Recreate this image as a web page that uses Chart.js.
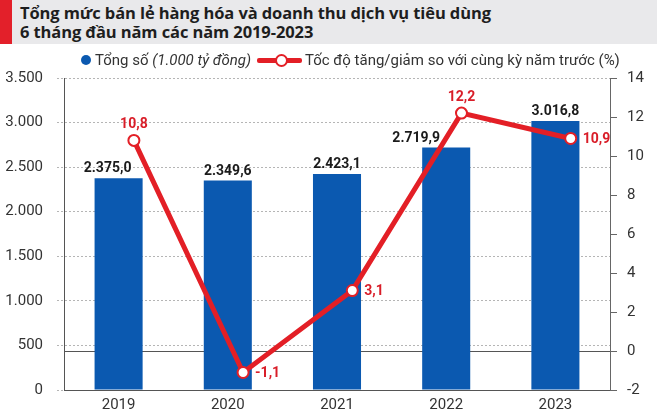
<!DOCTYPE html>
<html>
<head>
<meta charset="utf-8">
<script src="https://cdn.jsdelivr.net/npm/chart.js@4/dist/chart.umd.min.js"></script>
<style>
  body { margin: 0; background: #fff; font-family: Roboto, "Noto Sans", sans-serif; }
  #wrap { position: relative; width: 657px; height: 416px; overflow: hidden; background: #fff; }
  #chart { position: absolute; left: 0; top: 0; }
  #head { position: absolute; left: 0; top: 0; width: 657px; height: 44px; background: #e9e9eb; }
  #head .mark { position: absolute; left: 0; top: 0; width: 12px; height: 44px; background: #e3202a; }
  #head h1 { position: absolute; left: 20px; top: 3px; margin: 0; font-family: "Open Sans", Roboto, sans-serif; font-size: 16.5px; line-height: 19px; font-weight: 700; color: #1e1e1e; letter-spacing: -0.1px; }
  .lg { position: absolute; top: 51px; font-size: 15px; line-height: 18px; color: #333; white-space: nowrap; }
  .dot { position: absolute; left: 81px; top: 55px; width: 10px; height: 10px; border-radius: 50%; background: #0b59b0; }
  .lline { position: absolute; left: 257px; top: 58px; width: 45px; height: 5px; background: #e31f26; border-radius: 2px; }
  .lcirc { position: absolute; left: 275px; top: 54px; width: 9px; height: 9px; border-radius: 50%; background: #fff; border: 2px solid #e31f26; }
</style>
</head>
<body>
<div id="wrap">
  <canvas id="chart" width="657" height="416"></canvas>
  <div id="head">
    <div class="mark"></div>
    <h1>Tổng mức bán lẻ hàng hóa và doanh thu dịch vụ tiêu dùng<br>6 tháng đầu năm các năm 2019-2023</h1>
  </div>
  <span class="dot"></span>
  <span class="lg" style="left:95px">Tổng số <i>(1.000 tỷ đồng)</i></span>
  <span class="lline"></span>
  <span class="lcirc"></span>
  <span class="lg" style="left:305px">Tốc độ tăng/giảm so với cùng kỳ năm trước (%)</span>
</div>
<script>
const years = ['2019', '2020', '2021', '2022', '2023'];
const totalRetail = [2375.0, 2349.6, 2423.1, 2719.9, 3016.8];   // 1.000 tỷ đồng
const growthRate = [10.8, -1.1, 3.1, 12.2, 10.9];               // %

// label placement (style only)
const barLabelShift = [-11, 0, 0, -30, 0];
const lineLabelSide = ['top', 'right', 'right', 'top', 'right'];
const lineShift = 0.14;

const blue = '#0b59b0';
const red = '#e31f26';

// 2375.0 -> "2.375,0"
function fmtVN(v, dec) {
    const s = Math.abs(v).toFixed(dec);
    let [i, f] = s.split('.');
    i = i.replace(/\B(?=(\d{3})+(?!\d))/g, '.');
    return (v < 0 ? '-' : '') + i + (f ? ',' + f : '');
}

const zeroLine = {
    id: 'zeroLine',
    beforeDatasetsDraw(chart) {
        const { ctx, chartArea } = chart;
        const y = Math.round(chart.scales.y2.getPixelForValue(0)) + 0.5;
        ctx.save();
        ctx.strokeStyle = '#555';
        ctx.lineWidth = 1;
        ctx.beginPath();
        ctx.moveTo(chartArea.left, y);
        ctx.lineTo(chartArea.right, y);
        ctx.stroke();
        ctx.restore();
    }
};

const valueLabels = {
    id: 'valueLabels',
    afterDatasetsDraw(chart) {
        const ctx = chart.ctx;
        ctx.save();
        ctx.font = 'bold 14px Roboto';
        ctx.fillStyle = '#1b1b1b';
        ctx.textAlign = 'center';
        ctx.textBaseline = 'alphabetic';
        chart.getDatasetMeta(0).data.forEach((b, i) => {
            ctx.fillText(fmtVN(totalRetail[i], 1), b.x + barLabelShift[i], b.y - 6);
        });
        ctx.fillStyle = '#d91d28';
        chart.getDatasetMeta(1).data.forEach((p, i) => {
            const txt = fmtVN(growthRate[i], 1);
            if (lineLabelSide[i] === 'top') {
                ctx.textAlign = 'center';
                ctx.textBaseline = 'alphabetic';
                ctx.fillText(txt, p.x, p.y - 12);
            } else {
                ctx.textAlign = 'left';
                ctx.textBaseline = 'middle';
                ctx.fillText(txt, p.x + 12, p.y + 1);
            }
        });
        ctx.restore();
    }
};

const tickFont = { family: 'Roboto', size: 15 };

new Chart(document.getElementById('chart').getContext('2d'), {
    data: {
        labels: years,
        datasets: [{
            type: 'bar',
            data: totalRetail,
            backgroundColor: blue,
            grouped: false,
            barPercentage: 0.44,
            categoryPercentage: 1,
            yAxisID: 'y',
            xAxisID: 'x',
            order: 2
        }, {
            type: 'line',
            data: growthRate.map((v, i) => ({ x: i + lineShift, y: v })),
            borderColor: red,
            borderWidth: 5,
            pointRadius: 5.5,
            pointBorderWidth: 2,
            pointBackgroundColor: '#fff',
            pointBorderColor: red,
            tension: 0,
            yAxisID: 'y2',
            xAxisID: 'xl',
            order: 1
        }]
    },
    options: {
        responsive: false,
        animation: false,
        layout: { padding: { left: 4, right: 0, top: 78, bottom: 0 } },
        plugins: {
            legend: { display: false },
            tooltip: { enabled: false }
        },
        scales: {
            x: {
                type: 'category',
                grid: { display: false, drawTicks: false },
                border: { display: true, color: '#555', width: 1 },
                ticks: { font: tickFont, color: '#333', padding: 6 },
                afterFit(s) { s.height = 26; }
            },
            xl: { type: 'linear', display: false, min: -0.5, max: 4.5 },
            y: {
                position: 'left',
                min: 0,
                max: 3500,
                ticks: { stepSize: 500, font: tickFont, color: '#333', padding: 14, callback: v => fmtVN(v, 0) },
                grid: { color: '#b5b5b5', tickLength: 7, tickColor: '#b5b5b5', tickBorderDash: [2, 2] },
                border: { display: true, color: '#555', dash: [2, 2] },
                afterFit(s) { s.width = 60; }
            },
            y2: {
                position: 'right',
                min: -2,
                max: 14,
                ticks: { stepSize: 2, font: tickFont, color: '#333', padding: 10 },
                grid: { drawOnChartArea: false, tickLength: 7, tickColor: '#666' },
                border: { display: true, color: '#666' },
                afterFit(s) { s.width = 47; }
            }
        }
    },
    plugins: [zeroLine, valueLabels]
});
</script>
</body>
</html>
